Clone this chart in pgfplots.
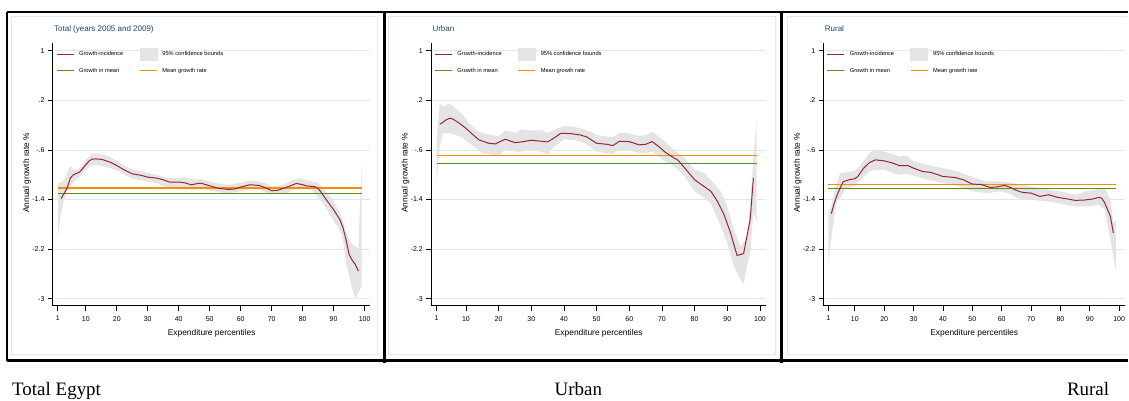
\documentclass[border=0pt]{standalone}
\usepackage{fontspec}
\setmainfont{Liberation Sans}
\newfontfamily\capfont{Liberation Serif}
\usepackage{pgfplots}
\pgfplotsset{compat=1.18}
\usepgfplotslibrary{fillbetween}

\definecolor{gicol}{RGB}{150,40,50}
\definecolor{gmcol}{RGB}{90,140,30}
\definecolor{mgcol}{RGB}{250,140,0}
\definecolor{bandcol}{RGB}{228,228,228}
\definecolor{gridcol}{RGB}{220,232,238}
\definecolor{framecol}{RGB}{222,234,240}
\definecolor{titlecol}{RGB}{26,71,111}

\pgfplotsset{
  panel/.style={
    scale only axis, anchor=south west, height=263pt,
    xmin=-0.6, xmax=101.9, ymin=-3.113, ymax=1.129,
    axis x line*=bottom, axis y line*=left,
    axis line style={black, line width=1.1pt},
    tick align=outside, major tick length=5pt,
    tick style={black, line width=0.9pt},
    xtick={1,10,20,30,40,50,60,70,80,90,100},
    xticklabels={1,10,20,30,40,50,60,70,80,90,100},
    ytick={-3,-2.2,-1.4,-0.6,0.2,1},
    yticklabels={-3,-2.2,-1.4,-.6,.2,1},
    ticklabel style={font=\fontsize{7}{8}\selectfont},
    xticklabel style={yshift=-2pt},
    ymajorgrids, grid style={gridcol, line width=0.9pt},
    xlabel={Expenditure percentiles},
    xlabel style={font=\fontsize{8.4}{9}\selectfont, at={(axis description cs:0.5,0)}, anchor=center, yshift=-28pt},
    ylabel={Annual growth rate \%},
    ylabel style={font=\fontsize{8.4}{9}\selectfont, at={(axis description cs:0,0.506)}, anchor=center, yshift=26pt},
    title style={at={(axis description cs:0,1)}, anchor=base west, xshift=1pt, yshift=5pt,
      font=\fontsize{8}{9}\selectfont, text=titlecol, inner sep=0pt},
    legend columns=2, legend cell align=left,
    legend style={draw=none, fill=none, at={(axis description cs:0,1)}, anchor=north west,
      xshift=3pt, yshift=-5pt, inner sep=0pt, font=\fontsize{5.7}{6.5}\selectfont,
      nodes={inner sep=0pt}, row sep=7.5pt,
      /tikz/every odd column/.append style={column sep=5pt},
      /tikz/every even column/.append style={column sep=16pt}},
  },
  meanline/.style={draw=#1, mark=none, line width=1.4pt, forget plot},
}
\newcommand{\panellegend}{%
  \addlegendimage{legend image code/.code={\draw[gicol, line width=1pt] (0pt,0pt) -- (17pt,0pt);}}
  \addlegendentry{Growth-incidence}
  \addlegendimage{legend image code/.code={\fill[bandcol] (0pt,-6pt) rectangle (17pt,6pt);}}
  \addlegendentry{95\% confidence bounds}
  \addlegendimage{legend image code/.code={\draw[gmcol, line width=1pt] (0pt,0pt) -- (17pt,0pt);}}
  \addlegendentry{Growth in mean}
  \addlegendimage{legend image code/.code={\draw[mgcol, line width=1pt] (0pt,0pt) -- (17pt,0pt);}}
  \addlegendentry{Mean growth rate}
}

\begin{document}
\begin{tikzpicture}
\path (0pt,0pt) rectangle (1129pt,401pt);
% light inner frames
\draw[framecol, line width=1pt] (12pt,46pt) rectangle (378pt,384pt);
\draw[framecol, line width=1pt] (389pt,46pt) rectangle (776pt,384pt);
\draw[framecol, line width=1pt] (1128pt,46pt) -- (788pt,46pt) -- (788pt,384pt) -- (1128pt,384pt);

% ---------------- Total
\begin{axis}[panel, at={(53pt,95pt)}, width=317.9pt, title={Total (years 2005 and 2009)}]
\addplot[draw=none, name path=up, forget plot] coordinates {
(1,-1.134) (2,-1.123) (3,-1.080) (4,-0.973) (5,-0.850) (6,-0.920) (8,-0.893) (10,-0.759)
(12,-0.662) (13,-0.652) (16,-0.678) (18,-0.716) (20,-0.775) (22,-0.839) (25,-0.909) (28,-0.946)
(30,-0.973) (33,-1.000) (35,-1.038) (37,-1.054) (40,-1.054) (42,-1.038) (45,-1.080) (47,-1.064)
(50,-1.107) (53,-1.145) (56,-1.161) (58,-1.145) (60,-1.123) (63,-1.091) (66,-1.107) (68,-1.134)
(70,-1.188) (72,-1.177) (75,-1.134) (77,-1.080) (79,-1.054) (81,-1.080) (83,-1.107) (85,-1.123)
(86,-1.188) (88,-1.295) (90,-1.429) (92,-1.617) (93,-1.751) (94,-1.938) (95,-2.046) (96,-2.126)
(97,-2.153) (98,-2.207) (99,-0.839)};
\addplot[draw=none, name path=lo, forget plot] coordinates {
(1,-2.019) (2,-1.617) (3,-1.402) (4,-1.268) (5,-1.188) (6,-1.123) (8,-1.027) (10,-0.920)
(12,-0.839) (13,-0.839) (16,-0.866) (18,-0.893) (20,-0.930) (22,-0.984) (25,-1.064) (28,-1.091)
(30,-1.107) (33,-1.134) (35,-1.188) (37,-1.198) (40,-1.204) (42,-1.215) (45,-1.241) (47,-1.215)
(50,-1.252) (53,-1.284) (56,-1.295) (58,-1.284) (60,-1.268) (63,-1.231) (66,-1.241) (68,-1.284)
(70,-1.322) (72,-1.306) (75,-1.295) (77,-1.241) (79,-1.215) (81,-1.231) (83,-1.241) (85,-1.375)
(86,-1.429) (88,-1.563) (90,-1.751) (92,-1.885) (93,-2.046) (94,-2.421) (95,-2.635) (96,-2.850)
(97,-3.000) (98,-2.904) (99,-2.796)};
\addplot[bandcol, forget plot] fill between[of=up and lo];
\addplot[meanline=gmcol] coordinates {(1,-1.306) (99,-1.306)};
\addplot[meanline=mgcol] coordinates {(1,-1.215) (99,-1.215)};
\addplot[gicol, line width=1pt, forget plot] coordinates {
(2,-1.386) (3,-1.30) (4,-1.21) (5,-1.054) (6,-1.00) (8,-0.957) (10,-0.839) (11,-0.78)
(12,-0.748) (13,-0.743) (15,-0.75) (16,-0.764) (18,-0.80) (20,-0.850) (22,-0.91) (25,-0.984)
(28,-1.01) (30,-1.038) (33,-1.054) (35,-1.08) (37,-1.118) (40,-1.118) (42,-1.13) (44,-1.161)
(47,-1.134) (50,-1.177) (53,-1.220) (56,-1.236) (58,-1.23) (60,-1.198) (63,-1.161) (66,-1.172)
(68,-1.21) (70,-1.257) (72,-1.25) (74,-1.215) (76,-1.18) (78,-1.139) (80,-1.16) (81,-1.177)
(84,-1.193) (85,-1.22) (86,-1.284) (88,-1.429) (90,-1.563) (92,-1.724) (93,-1.85) (94,-2.046)
(95,-2.287) (96,-2.38) (97,-2.448) (98,-2.555)};
\panellegend
\end{axis}

% ---------------- Urban
\begin{axis}[panel, at={(431.8pt,95pt)}, width=335.2pt, title={Urban}]
\addplot[draw=none, name path=up, forget plot] coordinates {
(1,-0.491) (2,0.164) (3,0.10) (5,0.153) (7,0.07) (9,-0.035) (11,-0.169) (13,-0.276)
(15,-0.330) (18,-0.357) (20,-0.383) (22,-0.287) (25,-0.32) (27,-0.265) (30,-0.287) (33,-0.276)
(35,-0.330) (37,-0.276) (40,-0.212) (43,-0.223) (45,-0.249) (48,-0.303) (50,-0.357) (53,-0.383)
(55,-0.394) (57,-0.32) (60,-0.330) (63,-0.373) (65,-0.357) (67,-0.303) (69,-0.383) (71,-0.464)
(73,-0.571) (75,-0.652) (77,-0.732) (80,-0.920) (83,-0.973) (85,-1.080) (88,-1.268) (90,-1.509)
(92,-1.885) (94,-2.153) (95,-2.099) (96,-1.99) (97,-1.509) (98,-0.705) (99,-0.115)};
\addplot[draw=none, name path=lo, forget plot] coordinates {
(1,-1.145) (2,-0.544) (3,-0.330) (5,-0.330) (7,-0.357) (9,-0.41) (11,-0.491) (13,-0.571)
(15,-0.652) (18,-0.678) (20,-0.705) (22,-0.587) (25,-0.625) (27,-0.625) (30,-0.609) (33,-0.625)
(35,-0.678) (37,-0.544) (40,-0.426) (43,-0.437) (45,-0.464) (48,-0.544) (50,-0.625) (53,-0.652)
(55,-0.662) (57,-0.598) (60,-0.598) (63,-0.652) (65,-0.652) (67,-0.625) (69,-0.705) (71,-0.786)
(73,-0.839) (75,-0.920) (77,-1.027) (80,-1.268) (83,-1.375) (85,-1.467) (88,-1.831) (90,-2.099)
(92,-2.475) (94,-2.689) (95,-2.770) (96,-2.475) (97,-2.260) (98,-1.617) (99,-1.751)};
\addplot[bandcol, forget plot] fill between[of=up and lo];
\addplot[meanline=gmcol] coordinates {(1,-0.818) (99,-0.818)};
\addplot[meanline=mgcol] coordinates {(1,-0.689) (99,-0.689)};
\addplot[gicol, line width=1pt, forget plot] coordinates {
(2,-0.185) (3,-0.15) (4,-0.11) (5,-0.088) (6,-0.099) (8,-0.169) (10,-0.249) (12,-0.346)
(14,-0.437) (17,-0.491) (19,-0.501) (22,-0.426) (25,-0.480) (27,-0.469) (30,-0.442) (33,-0.458)
(35,-0.469) (37,-0.405) (39,-0.330) (42,-0.335) (45,-0.357) (47,-0.389) (50,-0.491) (53,-0.507)
(55,-0.528) (57,-0.458) (60,-0.464) (63,-0.517) (65,-0.507) (67,-0.464) (69,-0.544) (71,-0.635)
(73,-0.705) (75,-0.769) (77,-0.893) (80,-1.080) (83,-1.193) (85,-1.268) (87,-1.429) (89,-1.643)
(91,-1.938) (93,-2.303) (95,-2.271) (97,-1.724) (98,-1.054)};
\panellegend
\end{axis}

% ---------------- Rural
\begin{axis}[panel, at={(824.6pt,95pt)}, width=301.4pt, title={Rural}]
\addplot[draw=none, name path=up, forget plot] coordinates {
(1,-1.617) (2,-1.509) (3,-1.295) (4,-1.107) (5,-0.973) (7,-0.957) (10,-0.936) (12,-0.839)
(15,-0.652) (17,-0.587) (20,-0.625) (23,-0.662) (25,-0.705) (28,-0.694) (30,-0.786) (35,-0.839)
(40,-0.893) (45,-0.946) (50,-1.038) (55,-1.107) (60,-1.107) (63,-1.123) (65,-1.145) (70,-1.188)
(75,-1.231) (80,-1.268) (85,-1.322) (90,-1.252) (93,-1.231) (95,-1.215) (97,-1.402) (98,-1.777)
(99,-1.724)};
\addplot[draw=none, name path=lo, forget plot] coordinates {
(1,-2.421) (2,-2.046) (3,-1.670) (4,-1.402) (5,-1.375) (7,-1.215) (10,-1.188) (12,-1.080)
(15,-0.946) (17,-0.920) (20,-0.920) (23,-0.973) (25,-1.000) (28,-0.984) (30,-1.016) (35,-1.080)
(40,-1.134) (45,-1.177) (50,-1.268) (55,-1.295) (60,-1.268) (63,-1.306) (65,-1.375) (70,-1.402)
(75,-1.429) (80,-1.467) (85,-1.509) (90,-1.509) (93,-1.483) (95,-1.563) (97,-2.046) (98,-2.314)
(99,-2.582)};
\addplot[bandcol, forget plot] fill between[of=up and lo];
\addplot[meanline=gmcol] coordinates {(1,-1.225) (99,-1.225)};
\addplot[meanline=mgcol] coordinates {(1,-1.161) (99,-1.161)};
\addplot[gicol, line width=1pt, forget plot] coordinates {
(2,-1.627) (3,-1.456) (4,-1.322) (5,-1.215) (6,-1.113) (8,-1.080) (10,-1.064) (11,-1.027)
(13,-0.893) (15,-0.802) (17,-0.759) (20,-0.775) (23,-0.812) (25,-0.850) (28,-0.850) (30,-0.893)
(33,-0.946) (36,-0.963) (40,-1.027) (44,-1.043) (47,-1.080) (50,-1.150) (53,-1.156) (56,-1.204)
(58,-1.198) (61,-1.172) (63,-1.204) (65,-1.252) (67,-1.284) (70,-1.295) (73,-1.349) (76,-1.322)
(79,-1.365) (82,-1.386) (85,-1.413) (88,-1.408) (91,-1.391) (93,-1.365) (94,-1.375) (95,-1.445)
(97,-1.670) (98,-1.938)};
\panellegend
\end{axis}

% black frames
\draw[black, line width=2.5pt] (7pt,389pt) -- (1129pt,389pt);
\draw[black, line width=2.5pt] (7pt,40pt) -- (1129pt,40pt);
\draw[black, line width=2.5pt] (7pt,389pt) -- (7pt,40pt);
\draw[black, line width=3pt] (384.5pt,389pt) -- (384.5pt,38pt);
\draw[black, line width=3pt] (782pt,389pt) -- (782pt,38pt);

% captions
\node[anchor=base west, inner sep=0pt, font=\capfont\fontsize{19}{22}\selectfont] at (12pt,5pt) {Total Egypt};
\node[anchor=base west, inner sep=0pt, font=\capfont\fontsize{19}{22}\selectfont] at (555pt,5pt) {Urban};
\node[anchor=base west, inner sep=0pt, font=\capfont\fontsize{19}{22}\selectfont] at (1068pt,5pt) {Rural};
\end{tikzpicture}
\end{document}
